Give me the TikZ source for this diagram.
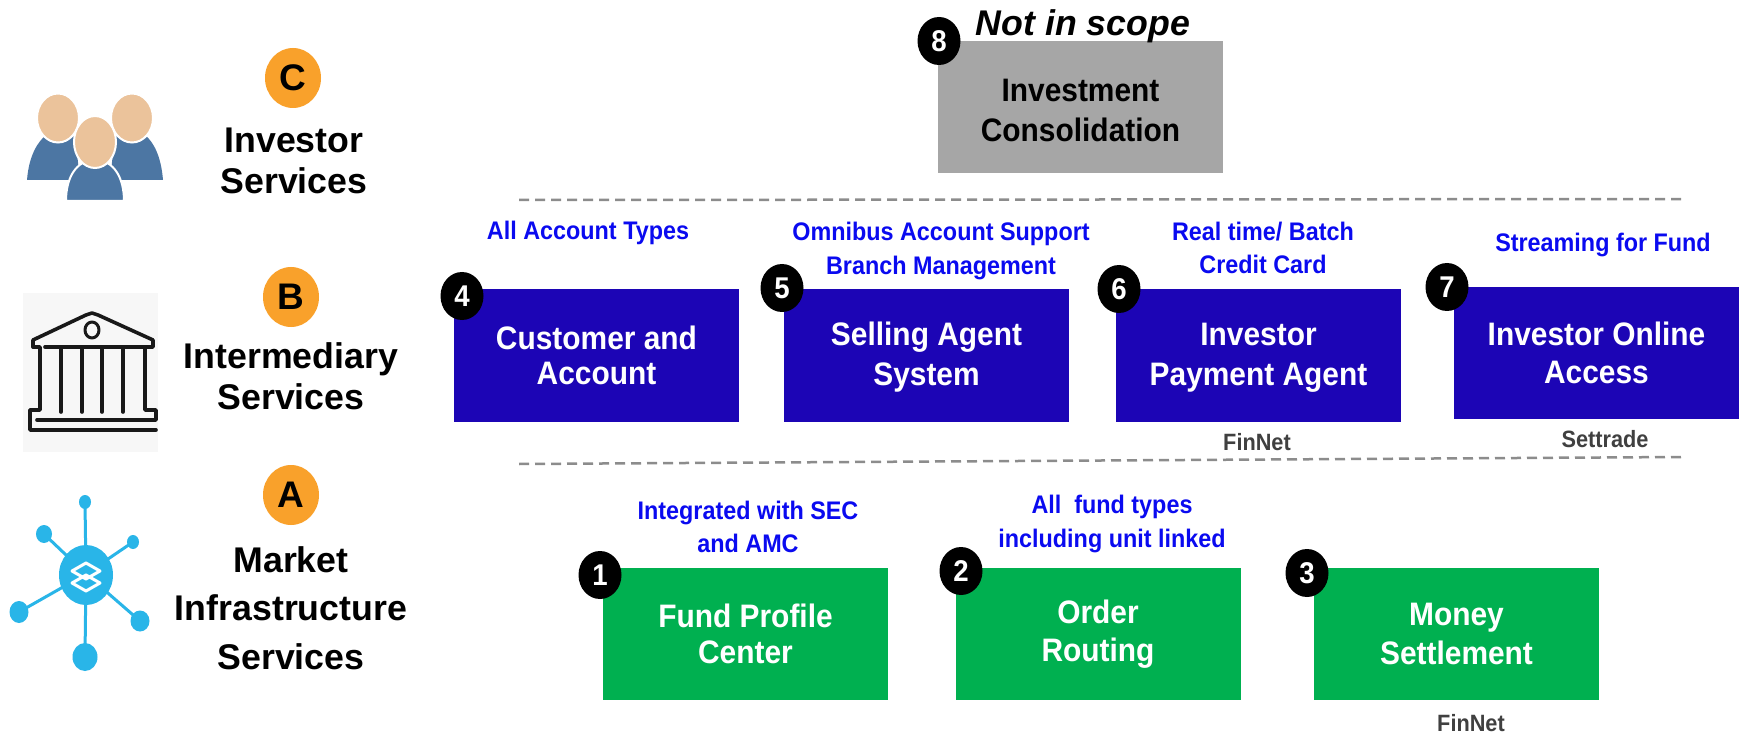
\documentclass[tikz,border=0pt]{standalone}
\usepackage{fontspec}
\setmainfont{Liberation Sans}
\newfontfamily\narrowfont{Liberation Sans}[FakeStretch=0.92]
\usetikzlibrary{shapes.geometric}
\definecolor{boxblue}{HTML}{1C05B5}
\definecolor{boxgreen}{HTML}{00B050}
\definecolor{boxgrey}{HTML}{A6A6A6}
\definecolor{badgeorange}{HTML}{F9A12B}
\definecolor{noteblue}{HTML}{0A0AF0}
\definecolor{peopleblue}{HTML}{4C76A3}
\definecolor{peoplehead}{HTML}{EBC39B}
\definecolor{netblue}{HTML}{29B5E8}
\definecolor{srcgrey}{HTML}{404040}
\newcommand{\topstrut}[1]{\rule{0pt}{#1pt}}
\tikzset{
  x=1pt,y=-1pt,
  box/.style={rectangle,minimum width=285pt,minimum height=132pt,inner sep=0pt,align=center,
    font=\narrowfont\fontsize{32.5}{35}\selectfont\bfseries},
  bluebox/.style={box,fill=boxblue,text=white},
  greenbox/.style={box,fill=boxgreen,text=white},
  greybox/.style={box,fill=boxgrey,text=black},
  numbadge/.style={ellipse,fill=black,text=white,minimum width=43pt,minimum height=48pt,inner sep=0pt,
    font=\narrowfont\fontsize{30}{30}\selectfont\bfseries},
  letterbadge/.style={ellipse,fill=badgeorange,text=black,minimum width=56pt,minimum height=60pt,inner sep=0pt,
    font=\fontsize{37}{37}\selectfont\bfseries},
  tier/.style={align=center,text=black,inner sep=0pt,font=\fontsize{35.7}{41}\selectfont\bfseries},
  note/.style={align=center,text=noteblue,inner sep=0pt,font=\narrowfont\fontsize{25.4}{33.5}\selectfont\bfseries},
  source/.style={text=srcgrey,inner sep=0pt,font=\narrowfont\fontsize{23.6}{26}\selectfont\bfseries},
  divider/.style={draw=black!45,line width=2.5pt,dash pattern=on 10pt off 6pt},
  netline/.style={draw=netblue,line width=3pt},
  netdot/.style={fill=netblue},
  bankline/.style={draw=black!90,line width=3.6pt,line cap=round,line join=round},
  head/.style={fill=peoplehead,draw=white,line width=2pt},
  body/.style={fill=peopleblue,draw=white,line width=2pt},
}
\begin{document}
\begin{tikzpicture}
\useasboundingbox (0,0) rectangle (1740,735);
\fill[white] (0,0) rectangle (1740,735);

% people icon
\fill[peopleblue] (27,180) .. controls (29,155) and (38,142) .. (45,136) -- (75,136) -- (80,180) -- cycle;
\fill[peopleblue] (110,180) -- (115,136) -- (146,136) .. controls (153,142) and (161,155) .. (163,180) -- cycle;
\filldraw[head] (58,118) ellipse [x radius=21,y radius=24.5];
\filldraw[head] (132,118) ellipse [x radius=21,y radius=24.5];
\filldraw[body] (66,201) .. controls (66,178) and (76,160) .. (95,160) .. controls (114,160) and (124,178) .. (124,201) -- cycle;
\filldraw[head] (95,142) ellipse [x radius=21,y radius=26];

% bank icon
\fill[black!3] (23,293) rectangle (158,452);
\draw[bankline] (33,347) -- (33,340) -- (86,315) -- (92,313) -- (98,315) -- (153,340) -- (153,347) -- (147,347);
\draw[bankline] (45,347) -- (147,347);
\draw[bankline] (33,347) -- (40,347) -- (40,410) -- (30,410) -- (30,430) -- (156,430);
\draw[bankline] (37,420) -- (156,420) -- (156,410) -- (145,410) -- (145,347);
\draw[bankline,line width=3pt] (92,330) ellipse [x radius=7,y radius=8];
\foreach \cx in {61,82,102,123}{\draw[bankline] (\cx,347) -- (\cx,412);}

% network icon
\foreach \sx/\sy/\srx/\sry in {85/502/6/7,44/534/8/9,133/542/6/7,19/612/9.5/11,140/621/9.5/10.5,85/657/12.5/14}{
  \draw[netline] (86,574) -- (\sx,\sy);
  \fill[netdot] (\sx,\sy) ellipse [x radius=\srx,y radius=\sry];
}
\fill[netdot] (86,575) ellipse [x radius=27,y radius=30];
\draw[white,line width=3pt,line join=round] (86,563) -- (100,571) -- (86,579) -- (72,571) -- cycle;
\draw[white,line width=3pt,line join=round] (86,575) -- (100,583) -- (86,591) -- (72,583) -- cycle;

% tier column
\node[letterbadge] (badgeC) at (293,78) {C};
\node[tier] (tierC) at (294,161) {Investor\\Services};
\node[letterbadge] (badgeB) at (291,297) {B};
\node[tier] (tierB) at (291,376) {Intermediary\\Services};
\node[letterbadge] (badgeA) at (291,495) {A};
\node[tier,font=\fontsize{35.7}{48.5}\selectfont\bfseries] (tierA) at (291,608) {Market\\Infrastructure\\Services};

% dividers
\coordinate (d1a) at (519,200);
\coordinate (d1b) at (1683,199);
\coordinate (d2a) at (519,464);
\coordinate (d2b) at (1683,457);
\draw[divider] (d1a) -- (d1b);
\draw[divider] (d2a) -- (d2b);

% boxes
\node[greybox] (b8) at (1080.5,107.5) {\topstrut{29}Investment\\[5pt]Consolidation};
\node[bluebox] (b4) at (596.5,355.5) {Customer and\\Account};
\node[bluebox] (b5) at (926.5,355.5) {\topstrut{27}Selling Agent\\[5pt]System};
\node[bluebox] (b6) at (1258.5,355.5) {\topstrut{27}Investor\\[5pt]Payment Agent};
\node[bluebox] (b7) at (1596.5,353) {Investor Online\\[3pt]Access};
\node[greenbox] (b1) at (745.5,634) {Fund Profile\\[1pt]Center};
\node[greenbox] (b2) at (1098,634) {Order\\[3pt]Routing};
\node[greenbox] (b3) at (1456.5,634) {Money\\[4pt]Settlement};

% number badges
\node[numbadge] (n8) at (939,41) {8};
\node[numbadge] (n4) at (462,296) {4};
\node[numbadge] (n5) at (782,288) {5};
\node[numbadge] (n6) at (1119,289) {6};
\node[numbadge] (n7) at (1447,287) {7};
\node[numbadge] (n1) at (600,575) {1};
\node[numbadge] (n2) at (961,571) {2};
\node[numbadge] (n3) at (1307,573) {3};

% notes
\node[inner sep=0pt,text=black,font=\fontsize{35.7}{38}\selectfont\bfseries\itshape] (scope) at (1083,26) {Not in scope};
\node[note] (note4) at (588,233) {All Account Types};
\node[note] (note5) at (941,251) {Omnibus Account Support\\Branch Management};
\node[note] (note6) at (1263,248) {Real time/ Batch\\Credit Card};
\node[note] (note7) at (1603,245) {Streaming for Fund};
\node[note] (note1) at (748,527) {Integrated with SEC\\and AMC};
\node[note] (note2) at (1112,524) {All\ \ fund types\\including unit linked};
\node[source] (src6) at (1257,442) {FinNet};
\node[source] (src7) at (1605,439) {Settrade};
\node[source] (src3) at (1471,723) {FinNet};
\end{tikzpicture}
\end{document}
